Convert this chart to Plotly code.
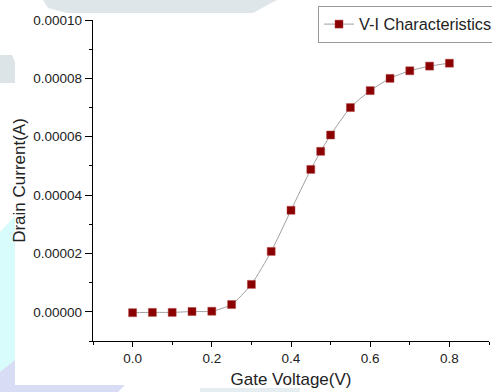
import plotly.graph_objects as go

gate_voltage = [0.0, 0.05, 0.1, 0.15, 0.2, 0.25, 0.3, 0.35, 0.4, 0.45, 0.475, 0.5,
                0.55, 0.6, 0.65, 0.7, 0.75, 0.8]
drain_current = [-0.0000003, -0.0000002, -0.0000002, 0.0000001, 0.0000002, 0.0000025,
                 0.0000094, 0.0000207, 0.0000348, 0.0000488, 0.0000550, 0.0000606,
                 0.0000700, 0.0000758, 0.0000800, 0.0000826, 0.0000842, 0.0000852]
series_name = "V-I Characteristics"
x_title = "Gate Voltage(V)"
y_title = "Drain Current(A)"

W, H = 492, 392
ML, MR, MT, MB = 93, 3, 20, 51
PW, PH = W - ML - MR, H - MT - MB


def px(x, y):
    """figure pixel -> paper coordinates (decoration only)"""
    return (x - ML) / PW, (H - MB - y) / PH


def poly(points):
    pts = [px(x, y) for x, y in points]
    return "M " + " L ".join(f"{a:.4f},{b:.4f}" for a, b in pts) + " Z"


FONT = "Liberation Sans, Arial, sans-serif"

fig = go.Figure()
fig.add_trace(go.Scatter(
    x=gate_voltage, y=drain_current, name=series_name,
    mode="lines+markers",
    line=dict(color="#a0a0a0", width=1, shape="spline", smoothing=0.6),
    marker=dict(symbol="square", size=8, color="#8B0000",
                line=dict(color="#b04848", width=0.5)),
))

axis_common = dict(
    showline=True, linecolor="black", linewidth=1.3,
    ticks="outside", tickcolor="black", tickwidth=1,
    showgrid=False, zeroline=False, mirror=False,
    tickfont=dict(family=FONT, size=13.5, color="#222"),
)

fig.update_xaxes(
    range=[-0.1, 0.9], tick0=0, dtick=0.2, tickformat=".1f", ticklen=5,
    minor=dict(dtick=0.1, ticks="outside", ticklen=3, tickcolor="black"),
    title=dict(text=x_title, font=dict(family=FONT, size=17, color="#222"), standoff=7),
    automargin=False,
    **axis_common,
)
fig.update_yaxes(
    range=[-0.00001, 0.0001], tick0=0, dtick=0.00002, tickformat=".5f", ticklen=7,
    minor=dict(dtick=0.00001, ticks="outside", ticklen=3, tickcolor="black"),
    title=dict(text=y_title, font=dict(family=FONT, size=17, color="#222"), standoff=3),
    automargin=False,
    **axis_common,
)

# faint watermark shapes in the outer margins
shapes = [
    dict(type="path", path=poly([(43, 0), (277, 0), (253, 13), (67, 13), (48, 8)]),
         fillcolor="#dfe6ea", line=dict(width=0)),
    dict(type="path", path=poly([(0, 55), (12, 55), (15, 62), (15, 83), (0, 83)]),
         fillcolor="#dde4e8", line=dict(width=0)),
    dict(type="path", path=poly([(0, 232), (15, 216), (15, 385), (0, 385)]),
         fillcolor="#d8fbfc", line=dict(width=0)),
    dict(type="path", path=poly([(0, 385), (125, 385), (118, 392), (0, 392)]),
         fillcolor="#d9dcf5", line=dict(width=0)),
    dict(type="path", path=poly([(0, 372), (15, 360), (15, 385), (0, 385)]),
         fillcolor="#d9dcf5", line=dict(width=0)),
    dict(type="path", path=poly([(200, 388), (300, 388), (300, 392), (200, 392)]),
         fillcolor="#e6edf1", line=dict(width=0)),
]
for s in shapes:
    s.update(xref="paper", yref="paper", layer="below")

fig.update_layout(
    width=W, height=H,
    margin=dict(l=ML, r=MR, t=MT, b=MB, autoexpand=False),
    paper_bgcolor="white", plot_bgcolor="white",
    showlegend=True,
    shapes=shapes,
    legend=dict(orientation="h",
                x=(318 - ML) / PW, xanchor="left", y=1 + (MT - 6) / PH, yanchor="top",
                bordercolor="#999", borderwidth=1, bgcolor="white",
                font=dict(family=FONT, size=16.3, color="#222"),
                itemwidth=30, entrywidth=280, entrywidthmode="pixels",
                tracegroupgap=0),
)

fig.write_html("out.html", config={"displayModeBar": False},
               post_script="document.body.style.margin='0';")
